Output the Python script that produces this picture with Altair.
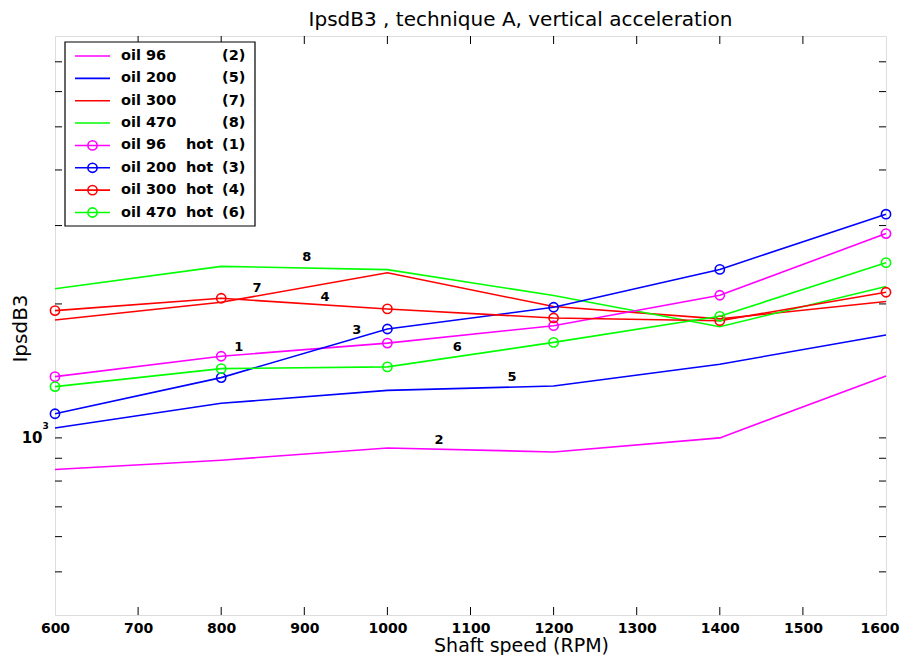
import altair as alt
import pandas as pd

# ---------------- data ----------------
rpm = [600, 800, 1000, 1200, 1400, 1600]
series_keys = ["oil 96", "oil 200", "oil 300", "oil 470",
               "oil 96 hot", "oil 200 hot", "oil 300 hot", "oil 470 hot"]
series_colors = ["#ff00ff", "#0000ff", "#ff0000", "#00ff00",
                 "#ff00ff", "#0000ff", "#ff0000", "#00ff00"]
oil96 = [849, 891, 949, 930, 1000, 1378]
oil200 = [1053, 1196, 1279, 1308, 1464, 1703]
oil300 = [1841, 2017, 2350, 1973, 1851, 2025]
oil470 = [2163, 2429, 2388, 2089, 1778, 2189]
oil96_hot = [1373, 1526, 1633, 1787, 2092, 2878]
oil200_hot = [1133, 1366, 1757, 1966, 2391, 3182]
oil300_hot = [1932, 2060, 1949, 1860, 1834, 2125]
oil470_hot = [1304, 1431, 1444, 1639, 1876, 2476]
series_values = [oil96, oil200, oil300, oil470,
                 oil96_hot, oil200_hot, oil300_hot, oil470_hot]

legend_names = ["oil 96", "oil 200", "oil 300", "oil 470",
                "oil 96", "oil 200", "oil 300", "oil 470"]
legend_hot = ["", "", "", "", "hot", "hot", "hot", "hot"]
legend_nums = ["(2)", "(5)", "(7)", "(8)", "(1)", "(3)", "(4)", "(6)"]

label_text = ["8", "7", "4", "3", "1", "6", "5", "2"]
label_rpm = [903, 843, 925, 963, 821, 1084, 1150, 1062]
label_val = [2545, 2177, 2078, 1751, 1602, 1602, 1371, 988]

x_ticks = [600, 700, 800, 900, 1000, 1100, 1200, 1300, 1400, 1500, 1600]
y_ticks = [500, 600, 700, 800, 900, 1000, 2000, 3000, 4000, 5000, 6000, 7000]

# ---------------- tables ----------------
rows = []
for key, vals in zip(series_keys, series_values):
    for r, v in zip(rpm, vals):
        rows.append({"rpm": r, "value": v, "series": key, "hot": key.endswith("hot")})
df = pd.DataFrame(rows)

lab_df = pd.DataFrame({"rpm": label_rpm, "value": label_val, "text": label_text})
yt_df = pd.DataFrame({"v": y_ticks})
xt_df = pd.DataFrame({"r": x_ticks[1:-1]})
leg_df = pd.DataFrame({"key": series_keys, "name": legend_names,
                       "hot": legend_hot, "num": legend_nums})

FONT = "DejaVu Sans"
W, H = 831, 579

xs = alt.Scale(domain=[600, 1600], nice=False, zero=False)
ys = alt.Scale(type="log", domain=[400, 8000], nice=False)
cs = alt.Scale(domain=series_keys, range=series_colors)

x_axis = alt.Axis(values=x_ticks, format="d", labelFont=FONT, labelFontWeight="bold",
                  labelFontSize=14, labelColor="black", ticks=False, domain=False,
                  grid=False, labelPadding=6, labelFlush=False,
                  labelAlign={"condition": {"test": "datum.value == 1600", "value": "right"},
                              "value": "center"},
                  labelOffset={"condition": {"test": "datum.value == 1600", "value": 13},
                               "value": 0},
                  title="Shaft speed (RPM)", titleFont=FONT, titleFontSize=19,
                  titleFontWeight="normal", titleColor="black",
                  titleX=466, titleY=36, titleAlign="center", titleBaseline="alphabetic")
y_axis = alt.Axis(values=y_ticks, labelExpr="datum.value == 1000 ? '10' : ''",
                  labelFont=FONT, labelFontWeight="bold", labelFontSize=15,
                  labelColor="black", labelPadding=13, ticks=False, domain=False,
                  grid=False, title="IpsdB3", titleFont=FONT, titleFontSize=20,
                  titleFontWeight="normal", titleColor="black",
                  titleX=-35, titleY=292, titleAlign="center", titleBaseline="middle")

layers = []
for i, key in enumerate(series_keys):
    base = alt.Chart(df).transform_filter(alt.datum.series == key)
    if i == 0:
        enc_x = alt.X("rpm:Q", scale=xs, axis=x_axis)
        enc_y = alt.Y("value:Q", scale=ys, axis=y_axis)
    else:
        enc_x = alt.X("rpm:Q", scale=xs, axis=None)
        enc_y = alt.Y("value:Q", scale=ys, axis=None)
    layers.append(base.mark_line(strokeWidth=1.6).encode(
        x=enc_x, y=enc_y, color=alt.Color("series:N", scale=cs, legend=None)))
    if key.endswith("hot"):
        layers.append(base.mark_point(shape="circle", filled=False, size=85,
                                      strokeWidth=1.6, opacity=1).encode(
            x=alt.X("rpm:Q", scale=xs, axis=None),
            y=alt.Y("value:Q", scale=ys, axis=None),
            color=alt.Color("series:N", scale=cs, legend=None)))

labels = alt.Chart(lab_df).mark_text(font=FONT, fontWeight="bold", fontSize=13,
                                     color="black", baseline="middle").encode(
    x=alt.X("rpm:Q", scale=xs, axis=None),
    y=alt.Y("value:Q", scale=ys, axis=None),
    text="text:N")

yl = alt.Chart(yt_df).mark_rule(color="black", strokeWidth=1).encode(
    y=alt.Y("v:Q", scale=ys, axis=None), x=alt.value(0), x2=alt.value(7))
yr = alt.Chart(yt_df).mark_rule(color="black", strokeWidth=1).encode(
    y=alt.Y("v:Q", scale=ys, axis=None), x=alt.value(W - 7), x2=alt.value(W))
xb = alt.Chart(xt_df).mark_rule(color="black", strokeWidth=1).encode(
    x=alt.X("r:Q", scale=xs, axis=None), y=alt.value(H - 8), y2=alt.value(H))
xtp = alt.Chart(xt_df).mark_rule(color="black", strokeWidth=1).encode(
    x=alt.X("r:Q", scale=xs, axis=None), y=alt.value(0), y2=alt.value(8))
sup = alt.Chart(pd.DataFrame({"v": [1000]})).mark_text(
    text="3", font=FONT, fontWeight="bold", fontSize=9, color="black",
    align="left", baseline="middle", dy=-12).encode(
    y=alt.Y("v:Q", scale=ys, axis=None), x=alt.value(-12.5))

# ---------------- legend ----------------
ly = alt.Y("key:N", scale=alt.Scale(type="point", domain=series_keys,
                                    range=[20, 176.5], padding=0), axis=None)
lc = alt.Color("key:N", scale=alt.Scale(domain=series_keys, range=series_colors),
               legend=None)
box = alt.Chart(pd.DataFrame({"a": [0]})).mark_rect(
    fill="white", stroke="black", strokeWidth=1.2).encode(
    x=alt.value(10), x2=alt.value(200), y=alt.value(6), y2=alt.value(190))
samples = alt.Chart(leg_df).mark_rule(strokeWidth=1.6).encode(
    x=alt.value(20), x2=alt.value(55), y=ly, color=lc)
markers = alt.Chart(leg_df).transform_filter(alt.datum.hot == "hot").mark_point(
    shape="circle", filled=False, size=85, strokeWidth=1.6, opacity=1).encode(
    x=alt.value(37.5), y=ly, color=lc)
tstyle = dict(font=FONT, fontWeight="bold", fontSize=14.5, color="black",
              align="left", baseline="middle")
t_name = alt.Chart(leg_df).mark_text(**tstyle).encode(
    x=alt.value(66), y=ly, text="name:N")
t_hot = alt.Chart(leg_df).mark_text(**tstyle).encode(
    x=alt.value(131), y=ly, text="hot:N")
t_num = alt.Chart(leg_df).mark_text(**tstyle).encode(
    x=alt.value(167), y=ly, text="num:N")

all_layers = layers + [labels, yl, yr, xb, xtp, sup,
                       box, samples, markers, t_name, t_hot, t_num]

chart = alt.layer(*all_layers).resolve_scale(
    x="independent", y="independent", color="independent"
).properties(
    width=W, height=H,
    title=alt.TitleParams("IpsdB3 , technique A, vertical acceleration",
                          font=FONT, fontSize=20, fontWeight="normal",
                          color="black", anchor="middle", dx=50, offset=6),
    autosize=alt.AutoSizeParams(type="none"),
    padding={"left": 47, "top": 28, "right": 14, "bottom": 40},
).configure_view(stroke="black", strokeWidth=1.2).configure(background="white")

chart.save("out.html", embed_options={"renderer": "svg", "actions": False})
